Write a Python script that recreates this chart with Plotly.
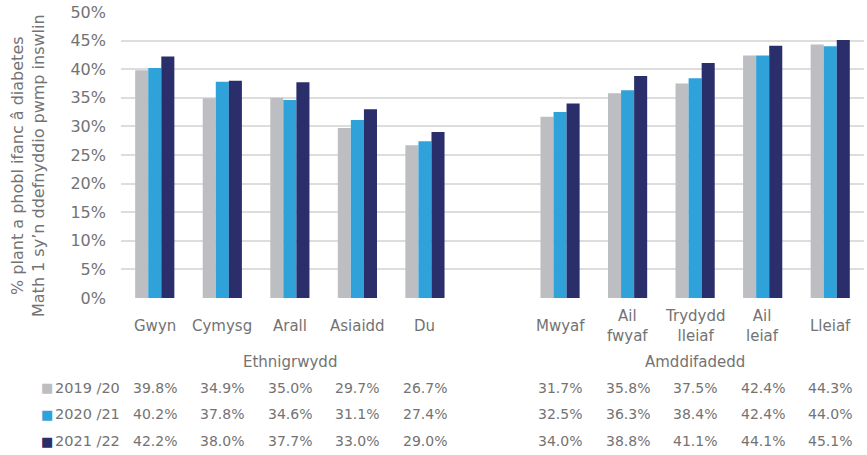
import plotly.graph_objects as go

# categories, split in two groups with an empty slot between them
ethnic = ["Gwyn", "Cymysg", "Arall", "Asiaidd", "Du"]
deprivation = ["Mwyaf", "Ail<br>fwyaf", "Trydydd<br>lleiaf", "Ail<br>leiaf", "Lleiaf"]
group_names = ["Ethnigrwydd", "Amddifadedd"]

years = ["2019 /20", "2020 /21", "2021 /22"]
v_2019 = [39.8, 34.9, 35.0, 29.7, 26.7, 31.7, 35.8, 37.5, 42.4, 44.3]
v_2020 = [40.2, 37.8, 34.6, 31.1, 27.4, 32.5, 36.3, 38.4, 42.4, 44.0]
v_2021 = [42.2, 38.0, 37.7, 33.0, 29.0, 34.0, 38.8, 41.1, 44.1, 45.1]

y_title = "% plant a phobl ifanc â diabetes<br>Math 1 sy’n ddefnyddio pwmp inswlin"

COLOURS = ["#BDBEC2", "#2FA2DA", "#2A2F6B"]
TEXT = "#737373"
FONT = "DejaVu Sans"

labels = ethnic + deprivation
xpos = list(range(len(ethnic))) + [len(ethnic) + 1 + i for i in range(len(deprivation))]

# pixel helpers for annotation placement, relative to the plot area
# (plot area spans 121..864 px across and 12..298 px down)
def py(p):
    return (298 - p) / 286

def px(p):
    return (p - 121) / 743

fig = go.Figure()
for name, vals, col in zip(years, [v_2019, v_2020, v_2021], COLOURS):
    fig.add_trace(go.Bar(x=xpos, y=[v / 100 for v in vals], name=name,
                         marker_color=col, marker_line_width=0))

fig.update_layout(
    width=867, height=455,
    margin=dict(l=121, r=3, t=12, b=157, autoexpand=False),
    paper_bgcolor="white", plot_bgcolor="white",
    barmode="group", bargap=0.42, bargroupgap=0,
    showlegend=False,
    font=dict(family=FONT, size=14, color=TEXT),
    xaxis=dict(range=[-0.5, xpos[-1] + 0.5], showticklabels=False, automargin=False,
               showgrid=False, zeroline=False, showline=False),
    yaxis=dict(range=[0, 0.5], dtick=0.05, tickformat=".0%", automargin=False,
               gridcolor="#DDDDDD", gridwidth=1.5, zeroline=False,
               ticklabeloverflow="allow",
               tickfont=dict(size=16, color=TEXT), ticklabelstandoff=14),
)

# y axis title
fig.add_annotation(x=px(28), y=py(166), xref="paper", yref="paper", text=y_title,
                   textangle=-90, showarrow=False, xanchor="center", yanchor="middle",
                   font=dict(size=16))

# category labels
for x, lab in zip(xpos, labels):
    fig.add_annotation(x=x, y=py(326), xref="x", yref="paper", text=lab,
                       showarrow=False, yanchor="middle", font=dict(size=15))

# group labels
for grp, xs in zip(group_names, [xpos[:5], xpos[5:]]):
    fig.add_annotation(x=sum(xs) / len(xs), y=py(362), xref="x", yref="paper",
                       text=grp, showarrow=False, yanchor="middle", font=dict(size=15))

# data table
row_y = [388, 414, 441]
for name, vals, col, ry in zip(years, [v_2019, v_2020, v_2021], COLOURS, row_y):
    fig.add_annotation(x=px(39), y=py(ry), xref="paper", yref="paper", text="■",
                       showarrow=False, xanchor="left", yanchor="middle",
                       font=dict(size=13, color=col))
    fig.add_annotation(x=px(53), y=py(ry), xref="paper", yref="paper", text=name,
                       showarrow=False, xanchor="left", yanchor="middle",
                       font=dict(size=14.5))
    for x, v in zip(xpos, vals):
        fig.add_annotation(x=x, y=py(ry), xref="x", yref="paper", text=f"{v:.1f}%",
                           showarrow=False, yanchor="middle", font=dict(size=14))

# drop the default page margin so the figure sits at the window's corner
fig.write_html("out.html", config={"displayModeBar": False},
               post_script="document.body.style.margin = '0';")
